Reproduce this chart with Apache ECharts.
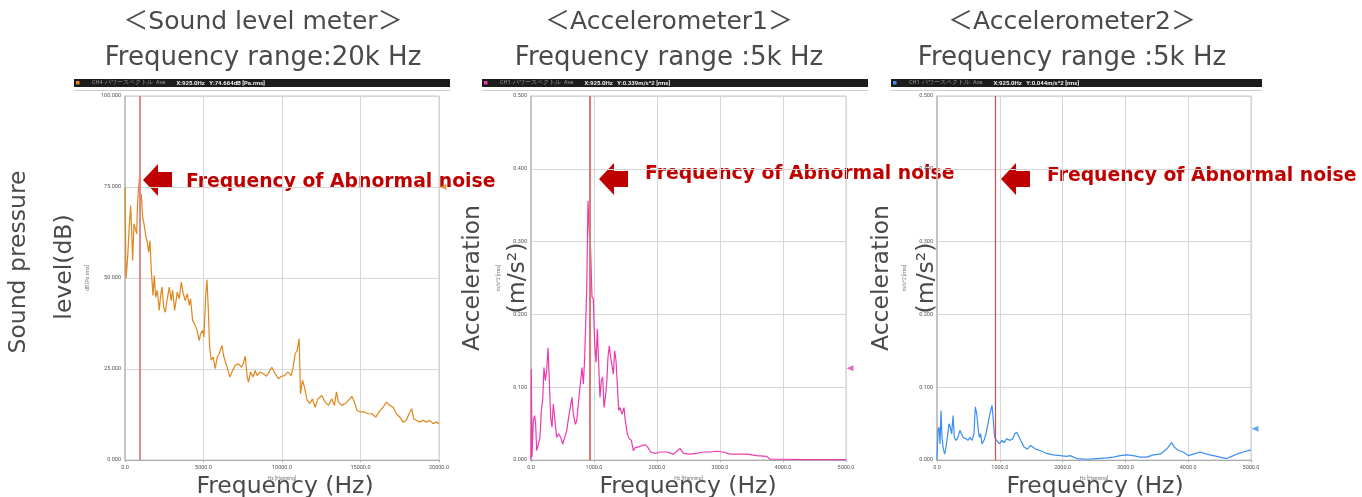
<!DOCTYPE html>
<html>
<head>
<meta charset="utf-8">
<script src="https://cdn.jsdelivr.net/npm/echarts@6/dist/echarts.min.js"></script>
<style>
  html, body { margin: 0; padding: 0; background: #fff; }
  #main { width: 1362px; height: 497px; }
</style>
</head>
<body>
<div id="main"></div>
<script>
// sound level meter, 0-20 kHz
const soundFreq = [0,64,170,255,361,424,488,573,658,742,806,925,954,1039,1124,1209,1336,1421,1506,1591,1676,1782,1866,1951,2057,2185,2269,2354,2460,2566,2694,2821,2948,3033,3160,3330,3457,3584,3712,3839,3966,4094,4178,4306,4433,4560,4730,4815,4942,5027,5133,5218,5302,5387,5493,5621,5748,5875,6002,6172,6299,6469,6681,6851,7021,7233,7402,7530,7657,7784,7869,7996,8166,8293,8420,8590,8802,9014,9184,9354,9566,9778,9947,10159,10371,10584,10711,10838,10966,11093,11178,11305,11432,11602,11772,11941,12111,12281,12535,12747,12959,13171,13341,13468,13596,13808,14020,14232,14444,14614,14783,14995,15250,15462,15716,15971,16183,16438,16650,16862,17074,17286,17498,17710,17922,18092,18262,18389,18559,18771,18983,19195,19407,19619,19831,20000];
const soundDb = [74.9,49.8,55.7,63.0,69.9,63.0,54.8,64.9,65.3,62.1,71.3,78.1,71.3,73.1,66.7,64.9,61.2,59.8,57.1,60.3,52.1,45.2,50.7,44.7,46.6,41.1,45.2,47.5,42.0,40.6,44.3,47.5,43.8,46.6,41.1,46.1,44.3,48.9,45.7,43.8,45.7,42.5,44.3,38.3,37.4,36.0,32.8,34.7,35.6,33.8,44.7,49.5,42.0,31.0,27.4,28.3,25.1,28.3,29.2,31.5,28.3,26.0,22.8,24.6,26.0,26.4,25.5,26.4,28.5,22.8,21.4,24.2,22.8,24.6,23.2,24.2,23.7,23.0,24.2,25.5,23.7,22.3,23.0,23.2,24.2,23.2,25.5,29.2,30.1,33.3,18.2,21.9,20.0,16.4,15.5,16.8,14.5,16.8,17.7,15.9,15.0,16.8,15.0,18.7,15.9,15.0,15.5,16.4,17.5,15.9,13.6,13.2,13.2,12.7,12.7,11.8,13.2,14.5,15.9,15.0,14.5,12.7,11.8,10.4,10.9,12.7,14.1,11.3,10.9,10.4,10.9,10.4,10.9,10.0,10.4,10.0];

// accelerometer 1, 0-5 kHz
const acc1Freq = [0,5,16,37,58,74,90,116,143,164,185,206,228,249,270,291,312,333,354,370,386,407,439,471,503,534,566,598,619,651,672,704,725,757,788,810,831,852,884,905,926,947,968,989,1011,1032,1053,1074,1095,1116,1138,1159,1180,1201,1222,1243,1265,1286,1307,1328,1349,1370,1392,1413,1444,1476,1497,1529,1561,1593,1624,1656,1709,1762,1815,1857,1899,1974,2048,2153,2259,2365,2418,2524,2630,2735,2841,2947,3053,3159,3265,3423,3582,3741,3794,4005,4323,5000];
const acc1Val = [0,0.125,0.004,0.054,0.061,0.049,0.013,0.015,0.031,0.068,0.082,0.127,0.109,0.123,0.154,0.109,0.059,0.045,0.077,0.079,0.049,0.031,0.036,0.031,0.022,0.031,0.040,0.059,0.070,0.086,0.063,0.049,0.054,0.082,0.109,0.127,0.104,0.141,0.233,0.356,0.311,0.288,0.224,0.221,0.159,0.134,0.180,0.132,0.086,0.109,0.114,0.072,0.086,0.104,0.141,0.157,0.141,0.141,0.118,0.150,0.137,0.104,0.068,0.072,0.063,0.072,0.054,0.036,0.029,0.027,0.013,0.017,0.018,0.020,0.021,0.017,0.011,0.009,0.011,0.011,0.008,0.016,0.009,0.008,0.009,0.011,0.011,0.012,0.011,0.008,0.008,0.008,0.006,0.005,0.001,0.001,0.0005,0.0005];

// accelerometer 2, 0-5 kHz
const acc2Freq = [0,16,32,48,64,80,101,122,143,165,191,212,234,255,276,303,334,366,387,419,462,494,525,557,589,610,632,653,674,695,717,748,780,812,844,876,897,918,950,993,1035,1067,1109,1162,1205,1237,1269,1300,1332,1385,1438,1492,1523,1566,1640,1746,1852,1959,2065,2118,2224,2383,2543,2702,2808,2914,3020,3126,3233,3339,3445,3551,3657,3737,3774,3843,3923,4002,4082,4188,4294,4400,4507,4613,4692,4772,4878,5000];
const acc2Val = [0,0.041,0.045,0.022,0.068,0.031,0.015,0.008,0.018,0.031,0.050,0.045,0.036,0.061,0.031,0.027,0.031,0.041,0.036,0.031,0.029,0.027,0.031,0.027,0.036,0.073,0.064,0.045,0.031,0.036,0.022,0.027,0.036,0.050,0.064,0.075,0.054,0.031,0.027,0.022,0.027,0.024,0.029,0.027,0.029,0.036,0.038,0.036,0.027,0.018,0.015,0.020,0.022,0.015,0.013,0.009,0.007,0.006,0.005,0.006,0.002,0.001,0.002,0.003,0.004,0.006,0.007,0.006,0.004,0.004,0.007,0.008,0.015,0.024,0.018,0.013,0.011,0.006,0.008,0.011,0.008,0.006,0.004,0.002,0.005,0.008,0.011,0.014];

const cursorFreq = 925;
const cursorY = [75, 0.126, 0.043];   // little level markers on the right edge

const titles1 = ['＜Sound level meter＞', '＜Accelerometer1＞', '＜Accelerometer2＞'];
const titles2 = ['Frequency range:20k Hz', 'Frequency range :5k Hz', 'Frequency range :5k Hz'];
const headerInfo = [
  ['CH4  パワースペクトル  Ave.', 'X:925.0Hz   Y:74.664dB [Pa.rms]'],
  ['CH1  パワースペクトル  Ave.', 'X:925.0Hz   Y:0.339m/s^2 [rms]'],
  ['CH1  パワースペクトル  Ave.', 'X:925.0Hz   Y:0.044m/s^2 [rms]']
];
const yNames = ['dB [Pa.rms]', 'm/s^2 [rms]', 'm/s^2 [rms]'];
const note = 'Frequency of Abnormal noise';

const colors = ['#e0861c', '#ec3aae', '#3d8ef2'];
const cursorColors = ['#de8a8a', '#e07777', '#e04848'];
const FONT = '"DejaVu Sans", "Noto Sans CJK JP", sans-serif';
const GRAY = '#4a4a4a';

const lefts = [125, 531, 937];
const widths = [314, 315, 314];
const centers = [263, 669, 1072];

function zip(xs, ys) {
  return xs.map((x, i) => [x, ys[i]]);
}

const chart = echarts.init(document.getElementById('main'));

let grids = [], xAxes = [], yAxes = [], series = [], graphics = [];
const seriesData = [zip(soundFreq, soundDb), zip(acc1Freq, acc1Val), zip(acc2Freq, acc2Val)];

for (let i = 0; i < 3; i++) {
  grids.push({
    left: lefts[i], width: widths[i], top: 96, bottom: 37,
    show: true, borderColor: '#c8c8c8', borderWidth: 1
  });
  xAxes.push({
    type: 'value', gridIndex: i, min: 0,
    max: i === 0 ? 20000 : 5000, interval: i === 0 ? 5000 : 1000,
    name: 'Hz [Hanning]', nameLocation: 'middle', nameGap: 14,
    nameTextStyle: { fontSize: 5, color: '#777', fontFamily: 'Roboto' },
    axisLine: { lineStyle: { color: '#aaa' } },
    axisTick: { length: 2, lineStyle: { color: '#aaa' } },
    axisLabel: { fontSize: 5.5, color: '#555', margin: 5, fontFamily: 'Roboto', formatter: v => v.toFixed(1) },
    splitLine: { lineStyle: { color: '#d6d6d6' } }
  });
  yAxes.push({
    type: 'value', gridIndex: i, min: 0,
    max: i === 0 ? 100 : 0.5, interval: i === 0 ? 25 : 0.1,
    name: yNames[i], nameLocation: 'middle', nameGap: i === 0 ? 35 : 30,
    nameTextStyle: { fontSize: 5, color: '#777', fontFamily: 'Roboto' },
    axisLine: { show: true, lineStyle: { color: '#bbb', width: 1.5 } },
    axisTick: { show: false },
    axisLabel: { fontSize: 5.5, color: '#555', margin: 4, fontFamily: 'Roboto', formatter: v => v.toFixed(3) },
    splitLine: { lineStyle: { color: '#d6d6d6' } }
  });
  series.push({
    type: 'line', xAxisIndex: i, yAxisIndex: i,
    data: seriesData[i], showSymbol: false, animation: false,
    lineStyle: { color: colors[i], width: 1.2 },
    markLine: {
      silent: true, symbol: ['none', 'none'], label: { show: false },
      lineStyle: { color: cursorColors[i], width: i === 2 ? 1.2 : 2, type: 'solid' },
      data: [{ xAxis: cursorFreq }]
    }
  });
  series.push({
    type: 'scatter', xAxisIndex: i, yAxisIndex: i, clip: false,
    data: [[i === 0 ? 20000 : 5000, cursorY[i]]],
    symbol: 'triangle', symbolRotate: 90, symbolSize: [6, 7], symbolOffset: [4, 0],
    itemStyle: { color: colors[i] }, silent: true, z: 5
  });

  // titles
  graphics.push({
    type: 'text', x: centers[i], y: 22,
    style: { text: titles1[i], fontFamily: FONT, fontSize: 25, fill: GRAY, align: 'center', verticalAlign: 'middle' }
  });
  graphics.push({
    type: 'text', x: centers[i], y: 58,
    style: { text: titles2[i], fontFamily: FONT, fontSize: 26, fill: GRAY, align: 'center', verticalAlign: 'middle' }
  });

  // black header strip
  const barX = [74, 482, 891][i], barW = [376, 386, 371][i];
  graphics.push({ type: 'rect', shape: { x: barX, y: 79, width: barW, height: 8 }, style: { fill: '#1c1c1c' } });
  graphics.push({ type: 'rect', shape: { x: barX + 2, y: 81, width: 3.5, height: 3.5 }, style: { fill: colors[i] } });
  graphics.push({
    type: 'text', x: barX + 18, y: 83,
    style: {
      text: '{g|' + headerInfo[i][0] + '}   {w|' + headerInfo[i][1] + '}',
      verticalAlign: 'middle',
      rich: {
        g: { fontSize: 5.5, fill: '#999', fontFamily: 'Roboto' },
        w: { fontSize: 6, fill: '#eee', fontWeight: 'bold', fontFamily: 'Roboto' }
      }
    }
  });
  graphics.push({ type: 'line', shape: { x1: barX, y1: 90.5, x2: barX + barW, y2: 90.5 }, style: { stroke: '#ccc', lineWidth: 1 } });

  // bottom axis caption
  graphics.push({
    type: 'text', x: [285, 688, 1095][i], y: 487,
    style: { text: 'Frequency (Hz)', fontFamily: FONT, fontSize: 23.5, fill: GRAY, align: 'center', verticalAlign: 'middle' }
  });

  // arrow + note
  const ax = [143, 599, 1001][i], ay = [180, 179, 179][i];
  graphics.push({
    type: 'polygon',
    shape: { points: [[ax, ay], [ax + 15, ay - 16], [ax + 15, ay - 8], [ax + 29, ay - 8], [ax + 29, ay + 8], [ax + 15, ay + 8], [ax + 15, ay + 16]] },
    style: { fill: '#c00000' }
  });
  graphics.push({
    type: 'text', x: [186, 645, 1047][i], y: [182, 174, 176][i],
    style: { text: note, fontFamily: FONT, fontSize: 18.8, fontWeight: 'bold', fill: '#c00000', verticalAlign: 'middle' }
  });
}

// rotated y captions
const vText = (text, x, y) => ({
  type: 'text', x: x, y: y, rotation: Math.PI / 2,
  style: { text: text, fontFamily: FONT, fontSize: 23.5, fill: GRAY, align: 'center', verticalAlign: 'middle' }
});
graphics.push(vText('Sound pressure', 19, 262));
graphics.push(vText('level(dB)', 65, 267));
graphics.push(vText('Acceleration', 473, 278));
graphics.push(vText('(m/s²)', 518, 278));
graphics.push(vText('Acceleration', 882, 278));
graphics.push(vText('(m/s²)', 927, 278));

chart.setOption({
  animation: false,
  backgroundColor: '#fff',
  grid: grids,
  xAxis: xAxes,
  yAxis: yAxes,
  series: series,
  graphic: { elements: graphics }
});
</script>
</body>
</html>
